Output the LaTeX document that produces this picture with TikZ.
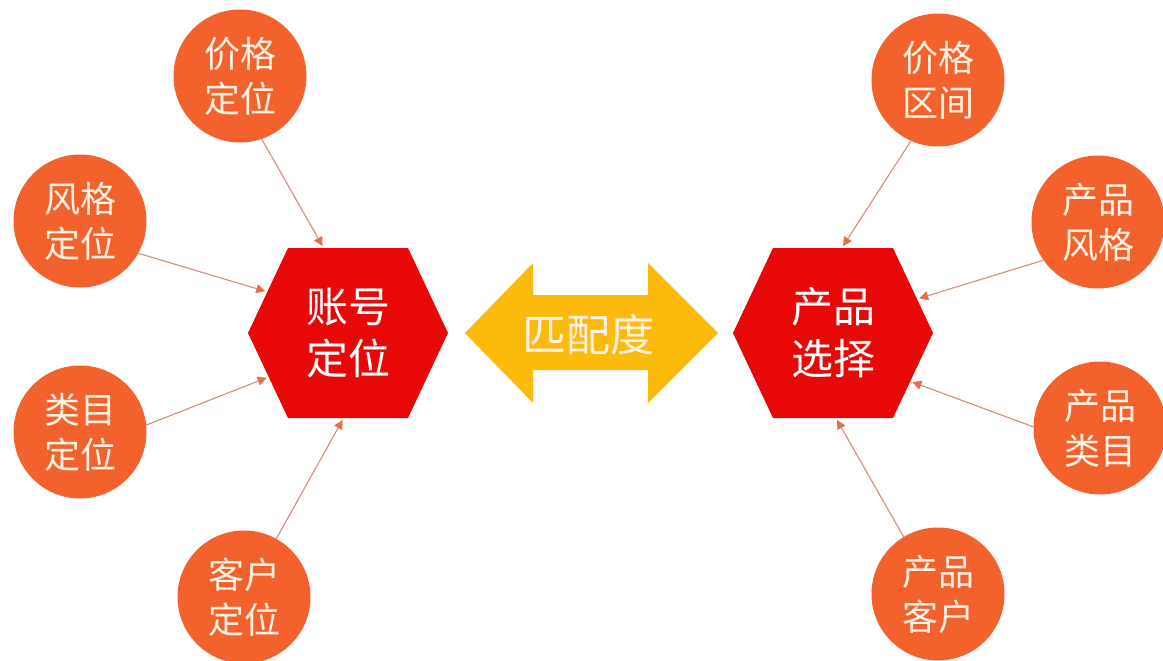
\documentclass[tikz,border=0pt]{standalone}
\usepackage{fontspec}
\newfontfamily\cjk{Noto Sans CJK SC}
\usetikzlibrary{arrows.meta,shapes.symbols}
\definecolor{circfill}{RGB}{243,98,45}
\definecolor{hexfill}{RGB}{232,8,8}
\definecolor{arrfill}{RGB}{251,186,12}
\definecolor{txtcream}{RGB}{255,242,228}
\definecolor{linecol}{RGB}{208,142,122}
\definecolor{tipcol}{RGB}{228,112,72}
\tikzset{
  circnode/.style={circle,fill=circfill,minimum size=133pt,inner sep=0pt,
    text=txtcream,align=center,font=\cjk\fontsize{36}{45}\selectfont},
  hexnode/.style={signal,signal to=west and east,signal pointer angle=129.6,
    fill=hexfill,minimum width=200pt,minimum height=170pt,inner sep=0pt,
    text=white,align=center,font=\cjk\fontsize{42}{52}\selectfont},
  conn/.style={draw=linecol,line width=1.1pt,
    -{Triangle[length=9pt,width=9pt,color=tipcol]},shorten >=2pt},
  matchtext/.style={text=txtcream,font=\cjk\fontsize{44}{50}\selectfont,inner sep=0pt}
}
\begin{document}
\begin{tikzpicture}[x=1pt,y=-1pt]
\useasboundingbox (0,0) rectangle (1163,661);
% hexagons
\node[hexnode] (hexL) at (348,333) {账号\\定位};
\node[hexnode] (hexR) at (833,333) {产品\\选择};
% double arrow
\fill[arrfill] (465,333) -- (533,263) -- (533,295) -- (648,295) -- (648,263)
  -- (718,333) -- (648,403) -- (648,370) -- (533,370) -- (533,403) -- cycle;
\node[matchtext] (match) at (588,335) {匹配度};
% left circles
\node[circnode] (c1) at (240,76) {价格\\定位};
\node[circnode] (c2) at (80,221) {风格\\定位};
\node[circnode] (c3) at (80,432) {类目\\定位};
\node[circnode] (c4) at (244,597) {客户\\定位};
% right circles
\node[circnode] (c5) at (938,80) {价格\\区间};
\node[circnode] (c6) at (1098,222) {产品\\风格};
\node[circnode] (c7) at (1100,428) {产品\\类目};
\node[circnode] (c8) at (938,594) {产品\\客户};
% connectors
\draw[conn] (c1.-71) -- (hexL.106);
\draw[conn] (c2.-29) -- (hexL.153);
\draw[conn] (c3.6) -- (hexL.209);
\draw[conn] (c4.61) -- (hexL.267);
\draw[conn] (c5.246) -- (hexR.84);
\draw[conn] (c6.215) -- (hexR.22);
\draw[conn] (c7.179) -- (hexR.-32);
\draw[conn] (c8.121) -- (hexR.-88);
\end{tikzpicture}
\end{document}
